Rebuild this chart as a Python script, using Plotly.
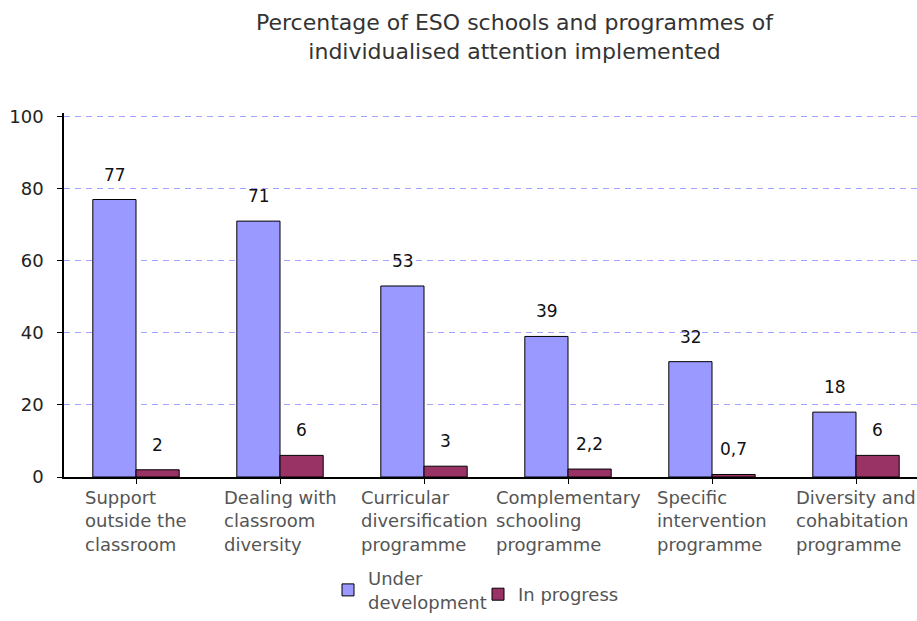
import plotly.graph_objects as go

# Chart data
categories = [
    "Support<br>outside the<br>classroom",
    "Dealing with<br>classroom<br>diversity",
    "Curricular<br>diversification<br>programme",
    "Complementary<br>schooling<br>programme",
    "Specific<br>intervention<br>programme",
    "Diversity and<br>cohabitation<br>programme",
]
under_development = [77, 71, 53, 39, 32, 18]
in_progress = [2, 6, 3, 2.2, 0.7, 6]
series_names = ["Under<br>development", "In progress"]
y_ticks = [0, 20, 40, 60, 80, 100]
title_text = "Percentage of ESO schools and programmes of<br>individualised attention implemented"

FONT = "DejaVu Sans"
BLUE = "#9999ff"
PLUM = "#993366"

W, H = 917, 621
Y_MAX = 101
L, R, T, B = 64, 0, 113, 144
plot_h = H - T - B
cat_px = 144  # width of one category slot in pixels
plot_w = W - L - R
y0_px = H - B  # pixel row of the zero line


def paper_y(px):
    return (y0_px - px) / plot_h


def paper_x(px):
    return (px - L) / plot_w


x_idx = list(range(len(categories)))

fig = go.Figure()
fig.add_trace(go.Bar(
    x=x_idx, y=under_development, name=series_names[0],
    marker=dict(color=BLUE, line=dict(color="black", width=1)),
    legend="legend",
))
fig.add_trace(go.Bar(
    x=x_idx, y=in_progress, name=series_names[1],
    marker=dict(color=PLUM, line=dict(color="black", width=1)),
    legend="legend2",
))


def fmt(v):
    return f"{v:g}".replace(".", ",")


annotations = []
bar_off = 21
for i in x_idx:
    for vals, dx in ((under_development, -bar_off), (in_progress, bar_off)):
        annotations.append(dict(
            x=i, y=vals[i], xref="x", yref="y", text=fmt(vals[i]),
            showarrow=False, xshift=dx, yshift=25, yanchor="middle",
            font=dict(family=FONT, size=17, color="#111111"),
        ))
    # category labels: centred block with left-aligned lines
    annotations.append(dict(
        x=i, y=0, xref="x", yref="paper", text=categories[i],
        showarrow=False, align="left", xanchor="center", yanchor="top",
        yshift=-8,
        font=dict(family=FONT, size=18, color="#555555"),
    ))

# chart title
annotations.append(dict(
    x=paper_x(515), xref="paper", xanchor="center",
    y=paper_y(37), yref="paper", yanchor="middle",
    text=title_text, showarrow=False, align="center",
    font=dict(family=FONT, size=22, color="#333333"),
))

legend_font = dict(family=FONT, size=18, color="#555555")

fig.update_layout(
    width=W, height=H,
    margin=dict(l=L, r=R, t=T, b=B, pad=0),
    paper_bgcolor="white", plot_bgcolor="white",
    barmode="group", bargap=0.4, bargroupgap=0,
    showlegend=True,
    xaxis=dict(
        range=[-0.5, -0.5 + plot_w / cat_px],
        showticklabels=False, tickmode="array", tickvals=x_idx,
        tickson="boundaries", ticks="outside", ticklen=5, tickcolor="black",
        showline=True, linecolor="black", linewidth=1.5,
        showgrid=False, zeroline=False, fixedrange=True,
    ),
    yaxis=dict(
        range=[0, Y_MAX], tickvals=y_ticks,
        ticks="outside", ticklen=5, tickcolor="black",
        showline=True, linecolor="black", linewidth=1.5,
        showgrid=True, gridcolor="#a3a3ff", griddash="6px,5px", gridwidth=1,
        zeroline=False, ticklabelstandoff=10,
        tickfont=dict(family=FONT, size=18, color="#222222"),
    ),
    legend=dict(
        x=paper_x(328), xanchor="left",
        y=paper_y(620), yanchor="bottom",
        font=legend_font, itemwidth=30, valign="middle",
        bgcolor="rgba(0,0,0,0)",
    ),
    legend2=dict(
        x=paper_x(478), xanchor="left",
        y=paper_y(576), yanchor="top",
        font=legend_font, itemwidth=30, valign="middle",
        bgcolor="rgba(0,0,0,0)",
    ),
    annotations=annotations,
)

fig.write_html("out.html")
